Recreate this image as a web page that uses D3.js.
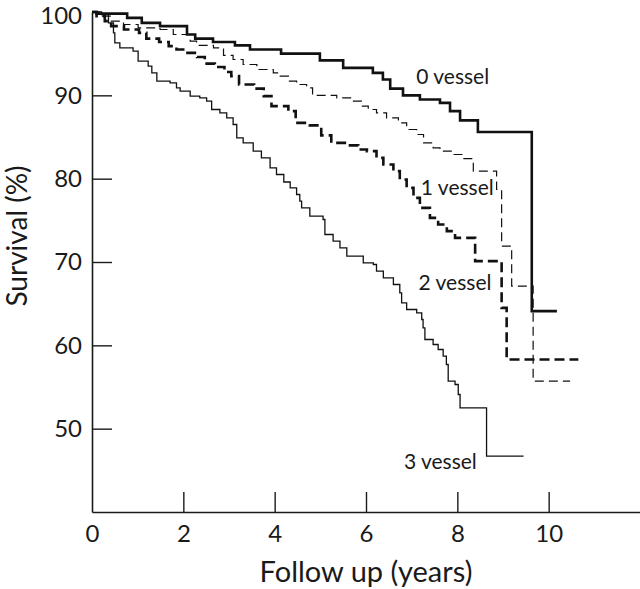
<!DOCTYPE html>
<html>
<head>
<meta charset="utf-8">
<script src="https://cdn.jsdelivr.net/npm/d3@7"></script>
<style>
  body { margin: 0; background: #fff; }
  text { font-family: Lato, "Open Sans", sans-serif; fill: #1a1a1a; }
</style>
</head>
<body>
<div id="chart"></div>
<script>
// Kaplan-Meier steps: [years, survival %]
var vessel0 = [[0,100],[0.1,99.8],[0.77,99.3],[1.09,98.7],[1.49,98.3],[2.08,97.3],[2.26,96.8],[2.65,96.4],
    [3.13,96.0],[3.46,95.5],[4.14,95.0],[4.99,94.2],[5.5,93.3],[6.15,92.7],[6.37,91.9],[6.53,90.8],
    [6.81,90.0],[7.18,89.5],[7.62,89.1],[7.84,88.1],[8.06,87.0],[8.45,85.6],[9.63,64.1],[10.18,64.1]];

var vessel1 = [[0,100],[0.15,99.5],[0.42,98.9],[0.69,98.5],[1.01,98.1],[1.49,97.9],[1.78,97.3],[2.15,96.5],
    [2.29,96.0],[2.66,95.7],[2.88,94.8],[3.09,94.3],[3.31,93.7],[3.61,93.1],[3.97,92.7],[4.12,92.3],
    [4.30,91.7],[4.48,91.3],[4.70,90.9],[4.83,90.0],[5.36,89.7],[5.68,89.3],[5.90,88.7],[6.05,88.3],
    [6.23,87.9],[6.45,87.3],[6.71,86.7],[6.89,85.9],[7.11,85.3],[7.26,84.3],[7.47,83.7],[7.62,83.3],
    [7.91,82.9],[8.13,82.4],[8.35,80.9],[8.86,78.7],[8.97,71.9],[9.19,67.1],[9.66,55.7],[10.47,55.7]];

var vessel2 = [[0,100],[0.1,99.5],[0.28,98.9],[0.42,98.3],[0.70,97.9],[1.03,97.5],[1.19,96.8],[1.47,96.4],
    [1.68,95.9],[1.85,95.5],[2.05,95.1],[2.30,94.6],[2.47,93.8],[2.69,93.4],[2.90,92.8],[3.05,92.3],
    [3.22,91.3],[3.55,90.8],[3.76,89.9],[3.93,88.7],[4.30,88.1],[4.46,86.7],[4.77,86.4],[5.02,85.2],
    [5.24,84.3],[5.58,84.0],[5.83,83.5],[6.02,83.3],[6.23,82.5],[6.38,81.7],[6.60,80.9],[6.74,79.9],
    [6.89,78.9],[7.04,77.7],[7.18,76.5],[7.40,75.3],[7.58,74.5],[7.77,73.7],[7.95,72.9],[8.39,70.1],
    [8.97,64.5],[9.08,58.3],[10.65,58.3]];

var vessel3 = [[0,100],[0.21,99.7],[0.36,98.7],[0.47,97.5],[0.50,96.3],[0.61,95.7],[0.90,95.3],[1.01,94.1],
    [1.23,93.5],[1.31,92.7],[1.42,91.7],[1.71,91.5],[1.85,90.9],[1.93,90.5],[2.15,89.9],[2.36,89.7],
    [2.51,89.3],[2.62,88.3],[2.80,87.9],[2.95,87.3],[3.09,86.5],[3.17,84.9],[3.31,84.3],[3.53,83.3],
    [3.71,82.5],[3.90,81.3],[4.04,80.5],[4.20,79.6],[4.34,78.9],[4.48,78.1],[4.55,77.3],[4.59,76.5],
    [4.77,75.5],[5.06,75.1],[5.10,73.3],[5.28,72.5],[5.43,71.7],[5.58,70.7],[5.94,69.9],[6.16,69.7],
    [6.23,68.9],[6.38,68.1],[6.60,67.3],[6.74,66.3],[6.78,65.1],[6.89,64.3],[7.11,63.9],[7.22,63.1],
    [7.25,62.1],[7.29,60.7],[7.47,60.1],[7.58,59.5],[7.69,58.7],[7.76,57.7],[7.80,55.7],[7.95,55.3],
    [8.02,54.1],[8.06,52.5],[8.64,46.7],[9.45,46.7]];

var xTicks = [0, 2, 4, 6, 8, 10];
var yTicks = [50, 60, 70, 80, 90, 100];
var seriesLabels = ["0 vessel", "1 vessel", "2 vessel", "3 vessel"];
// label anchor points in data units (years, %)
var labelPos = [[7.1, 91.4], [7.2, 78.1], [7.15, 66.6], [6.83, 45.2]];

var width = 640, height = 589;
var margin = { top: 12, right: 0, bottom: 77, left: 92 };

var svg = d3.select("#chart").append("svg")
    .attr("width", width)
    .attr("height", height);

var x = d3.scaleLinear().domain([0, 12]).range([margin.left, width - margin.right]);
var y = d3.scaleLinear().domain([40, 100]).range([height - margin.bottom, margin.top]);

// axes, ticks pointing into the plot
var xAxis = svg.append("g")
    .attr("transform", "translate(0," + y(40) + ")")
    .call(d3.axisBottom(x).tickValues(xTicks).tickSizeInner(-20).tickSizeOuter(0).tickPadding(13));

var yAxis = svg.append("g")
    .attr("transform", "translate(" + x(0) + ",0)")
    .call(d3.axisLeft(y).tickValues(yTicks).tickSizeInner(-20).tickSizeOuter(0).tickPadding(10));

[xAxis, yAxis].forEach(function (a) {
    a.select(".domain").attr("stroke", "#1a1a1a").attr("stroke-width", 1.6);
    a.selectAll(".tick line").attr("stroke", "#1a1a1a").attr("stroke-width", 1.4);
    a.selectAll(".tick text").style("font-size", "24px").attr("fill", "#1a1a1a");
});
xAxis.selectAll(".tick").filter(function (d) { return d === 0; }).select("line").remove();
yAxis.selectAll(".tick").filter(function (d) { return d === 100; }).select("line").remove();
yAxis.selectAll(".tick").filter(function (d) { return d === 100; }).select("text").attr("dy", "0.46em");

svg.append("text")
    .attr("x", 366)
    .attr("y", 582)
    .attr("text-anchor", "middle")
    .style("font-size", "29px")
    .text("Follow up (years)");

svg.append("text")
    .attr("transform", "translate(27," + 236 + ") rotate(-90)")
    .attr("text-anchor", "middle")
    .style("font-size", "28px")
    .text("Survival (%)");

var line = d3.line()
    .curve(d3.curveStepAfter)
    .x(function (d) { return x(d[0]); })
    .y(function (d) { return y(d[1]); });

var styles = [
    { data: vessel0, w: 2.6, dash: null },
    { data: vessel1, w: 1.2, dash: "9,5" },
    { data: vessel2, w: 2.6, dash: "10,5" },
    { data: vessel3, w: 1.3, dash: null }
];

svg.append("g").selectAll("path")
    .data(styles)
    .enter()
    .append("path")
    .attr("d", function (d) { return line(d.data); })
    .attr("fill", "none")
    .attr("stroke", "#111")
    .attr("stroke-width", function (d) { return d.w; })
    .attr("stroke-dasharray", function (d) { return d.dash; });

svg.append("g").selectAll("text")
    .data(seriesLabels)
    .enter()
    .append("text")
    .attr("x", function (d, i) { return x(labelPos[i][0]); })
    .attr("y", function (d, i) { return y(labelPos[i][1]); })
    .style("font-size", "21px")
    .text(function (d) { return d; });
</script>
</body>
</html>
